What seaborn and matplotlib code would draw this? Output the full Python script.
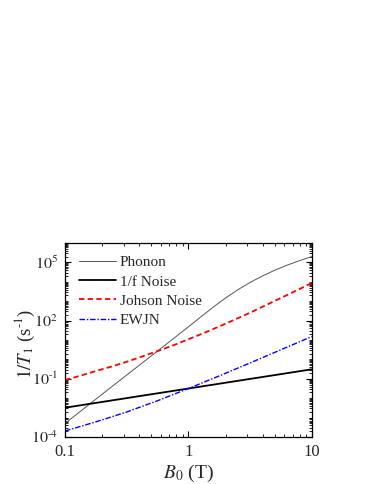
import numpy as np
import pandas as pd
import matplotlib
matplotlib.use("Agg")
import matplotlib.pyplot as plt
import matplotlib.ticker as mticker
import seaborn as sns

# ---- data (log10 values) ----
phonon_logB = [-1.0, -0.8, -0.6, -0.4, -0.2, 0.0, 0.1, 0.2, 0.3, 0.4, 0.5, 0.6, 0.7, 0.8, 0.9, 1.0]
phonon_logy = [-3.3, -2.3, -1.3, -0.31, 0.68, 1.68, 2.19, 2.69, 3.16, 3.59, 3.97, 4.3, 4.6, 4.86, 5.09, 5.3]

flicker_logB = [-1.0, 0.0, 1.0]
flicker_logy = [-2.49, -1.5, -0.51]

johnson_logB = [-1.0, -0.875, -0.75, -0.625, -0.5, -0.375, -0.25, -0.125, 0.0,
                0.125, 0.25, 0.375, 0.5, 0.625, 0.75, 0.875, 1.0]
johnson_logy = [-1.06, -0.84, -0.6, -0.37, -0.12, 0.15, 0.43, 0.72, 1.04,
                1.36, 1.7, 2.05, 2.41, 2.79, 3.17, 3.55, 3.94]

ewjn_logB = [-1.0, -0.75, -0.5, -0.25, 0.0, 0.25, 0.5, 0.75, 1.0]
ewjn_logy = [-3.69, -3.22, -2.71, -2.13, -1.5, -0.85, -0.18, 0.5, 1.18]

series_names = ["Phonon", "1/f Noise", "Johson Noise", "EWJN"]
x_tick_values = [0.1, 1, 10]
x_tick_labels = ["0.1", "1", "10"]
y_tick_exps = [-4, -1, 2, 5]

sns.set_style("ticks")
plt.rcParams["font.family"] = ["Liberation Serif", "DejaVu Serif"]
plt.rcParams["mathtext.fontset"] = "stix"

fig = plt.figure(figsize=(3.74, 4.84), dpi=100)
ax = fig.add_axes([0.1738, 0.0971, 0.66, 0.4008])

def frame(name, lb, ly):
    return pd.DataFrame({"B": np.power(10.0, lb), "R": np.power(10.0, ly), "s": name})

data = [frame(series_names[0], phonon_logB, phonon_logy),
        frame(series_names[1], flicker_logB, flicker_logy),
        frame(series_names[2], johnson_logB, johnson_logy),
        frame(series_names[3], ewjn_logB, ewjn_logy)]

styles = [dict(color="#555555", lw=0.7, ls="-"),
          dict(color="black", lw=1.3, ls="-"),
          dict(color="#ff0000", lw=1.3, ls=(0, (3.0, 1.8))),
          dict(color="#0000ff", lw=1.0, ls=(0, (4.0, 1.3, 1.0, 1.3)))]

for df, st in zip(data, styles):
    sns.lineplot(data=df, x="B", y="R", ax=ax, color=st["color"], linewidth=st["lw"],
                 linestyle=st["ls"], label=df["s"].iloc[0], sort=False, estimator=None)

ax.set_xscale("log")
ax.set_yscale("log")
ax.set_xlim(0.1, 10)
ax.set_ylim(1e-4, 1e6)

def exp_label(e):
    if e < 0:
        return r"$10^{\text{-}%d}$" % (-e)
    return r"$10^{%d}$" % e

ax.xaxis.set_major_locator(mticker.FixedLocator(x_tick_values))
ax.xaxis.set_major_formatter(mticker.FixedFormatter(x_tick_labels))
ax.xaxis.set_minor_locator(mticker.LogLocator(base=10, subs=np.arange(2, 10), numticks=20))
ax.xaxis.set_minor_formatter(mticker.NullFormatter())

ax.yaxis.set_major_locator(mticker.FixedLocator([10.0 ** e for e in y_tick_exps]))
ax.yaxis.set_major_formatter(mticker.FixedFormatter([exp_label(e) for e in y_tick_exps]))
ax.yaxis.set_minor_locator(mticker.LogLocator(base=10, subs=np.arange(1, 10), numticks=30))
ax.yaxis.set_minor_formatter(mticker.NullFormatter())

ax.tick_params(which="both", direction="in", top=True, right=True, color="black")
ax.tick_params(which="major", length=4, width=0.8, pad=5)
ax.tick_params(axis="x", which="major", labelsize=12)
ax.tick_params(axis="y", which="major", labelsize=11.5)
ax.tick_params(which="minor", length=2, width=0.6)
for sp in ax.spines.values():
    sp.set_linewidth(0.9)
    sp.set_color("black")

ax.set_xlabel(r"$B_0$ (T)", fontsize=14, labelpad=2)
ax.set_ylabel(r"$1/T_1$ (s$^{\text{-}1}$)", fontsize=13.5)
ax.yaxis.set_label_coords(-0.115, 0.48)

leg = ax.legend(loc="upper left", frameon=False, fontsize=11, handlelength=2.45,
                handletextpad=0.25, labelspacing=0.36, borderaxespad=0.3,
                bbox_to_anchor=(0.012, 0.99))

fig.savefig("out.png", dpi=100)
